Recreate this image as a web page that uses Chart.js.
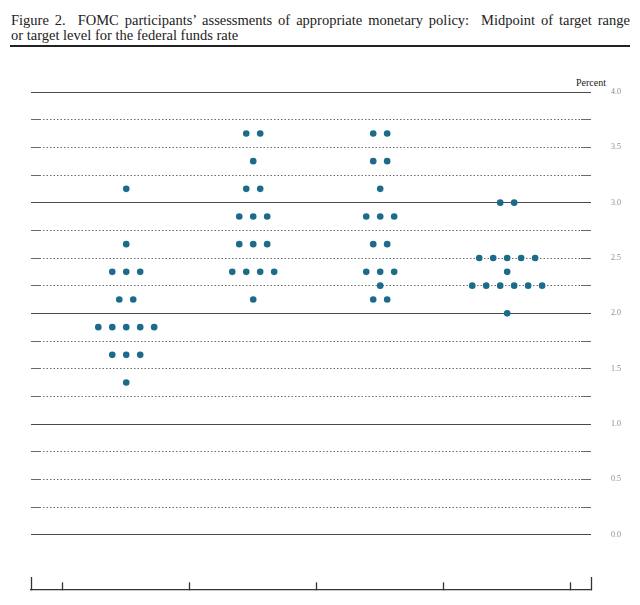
<!DOCTYPE html>
<html>
<head>
<meta charset="utf-8">
<script src="https://cdn.jsdelivr.net/npm/chart.js@4.4.1/dist/chart.umd.min.js"></script>
<style>
  html, body { margin: 0; padding: 0; background: #fff; }
  #wrap { position: relative; width: 640px; height: 605px; }
  .title {
    position: absolute; left: 11px; width: 619px;
    font-family: 'Liberation Serif', serif; font-size: 14.5px; line-height: 15px;
    color: #222; white-space: nowrap;
  }
  #t1 { top: 13px; text-align: justify; text-align-last: justify; white-space: normal; }
  #t2 { top: 28px; }
  #rule { position: absolute; left: 10px; top: 45px; width: 620px; border-top: 2px solid #222; }
  #unit {
    position: absolute; left: 576px; top: 77px;
    font-family: 'Liberation Serif', serif; font-size: 10px; color: #222;
  }
  canvas { position: absolute; left: 0; top: 0; }
</style>
</head>
<body>
<div id="wrap">
  <div class="title" id="t1">Figure 2.&nbsp; FOMC participants’ assessments of appropriate monetary policy:&nbsp; Midpoint of target range</div>
  <div class="title" id="t2">or target level for the federal funds rate</div>
  <div id="rule"></div>
  <div id="unit">Percent</div>
  <canvas id="chart" width="640" height="605"></canvas>
</div>
<script>
const categories = ['2018', '2019', '2020', 'Longer run'];

// midpoint levels and number of participants at each level
const levels2018 = [3.125, 2.625, 2.375, 2.125, 1.875, 1.625, 1.375];
const counts2018 = [1, 1, 3, 2, 5, 3, 1];
const levels2019 = [3.625, 3.375, 3.125, 2.875, 2.625, 2.375, 2.125];
const counts2019 = [2, 1, 2, 3, 3, 4, 1];
const levels2020 = [3.625, 3.375, 3.125, 2.875, 2.625, 2.375, 2.25, 2.125];
const counts2020 = [2, 2, 1, 3, 2, 3, 1, 2];
const levelsLonger = [3.0, 2.5, 2.375, 2.25, 2.0];
const countsLonger = [2, 5, 1, 6, 1];

const yTickLabels = ['0.0', '0.5', '1.0', '1.5', '2.0', '2.5', '3.0', '3.5', '4.0'];
const xTickValues = [-0.75, -0.5, 0.5, 1.5, 2.5, 3.5, 3.66];

const groups = [
  [levels2018, counts2018],
  [levels2019, counts2019],
  [levels2020, counts2020],
  [levelsLonger, countsLonger],
];

const dotSpacing = 0.11;
const points = [];
groups.forEach(([levels, counts], i) => {
  levels.forEach((level, k) => {
    const n = counts[k];
    for (let j = 0; j < n; j++) {
      points.push({ x: i + (j - (n - 1) / 2) * dotSpacing, y: level });
    }
  });
});

// dotted line with short solid pieces at both ends
function gridDash(ctx) {
  const t = ctx.tick;
  if (!t || Number.isInteger(t.value)) return [];
  const area = ctx.chart.chartArea;
  const w = area ? area.right - area.left : 560;
  const arr = [10];
  let pos = 10;
  while (pos + 3.5 < w - 10) {
    arr.push(2, 1.5);
    pos += 3.5;
  }
  arr.push(w - 10 - pos, 40);
  return arr;
}

new Chart(document.getElementById('chart'), {
  type: 'scatter',
  data: {
    datasets: [{
      label: 'Participants',
      data: points,
      backgroundColor: '#1d6b8b',
      borderWidth: 0,
      pointRadius: 3.3,
    }],
  },
  options: {
    responsive: false,
    animation: false,
    layout: { padding: { left: 31, top: 92, right: 0, bottom: 15 } },
    plugins: {
      legend: { display: false },
      tooltip: { enabled: false },
    },
    scales: {
      x: {
        type: 'linear',
        position: 'bottom',
        min: xTickValues[0],
        max: xTickValues[xTickValues.length - 1],
        afterBuildTicks: (scale) => {
          scale.ticks = xTickValues.map((v) => ({ value: v }));
        },
        afterFit: (scale) => { scale.height = 0; },
        grid: {
          drawOnChartArea: false,
          drawTicks: true,
          tickLength: -13,
          tickColor: '#333',
          tickWidth: 1.3,
          tickBorderDash: (ctx) => (ctx.index === 0 || ctx.index === xTickValues.length - 1) ? [] : [8, 30],
        },
        border: { display: true, color: '#333', width: 1.3 },
        ticks: { display: false },
      },
      y: {
        position: 'right',
        min: -0.5,
        max: 4,
        afterFit: (scale) => {
          scale.width = 49;
          scale.paddingTop = 0;
          scale.paddingBottom = 0;
        },
        ticks: {
          stepSize: 0.25,
          autoSkip: false,
          padding: 20,
          color: '#8a8a8a',
          font: { family: 'Liberation Serif', size: 8 },
          callback: (v) => {
            const i = Math.round(v / 0.5);
            return (v >= 0 && Math.abs(v - i * 0.5) < 1e-9) ? yTickLabels[i] : '';
          },
        },
        grid: {
          drawTicks: false,
          lineWidth: 1,
          color: (ctx) => {
            const v = ctx.tick ? ctx.tick.value : 0;
            if (v < 0) return 'rgba(0,0,0,0)';
            return Number.isInteger(v) ? '#4a4a4a' : '#6a6a6a';
          },
        },
        border: { display: false, dash: gridDash },
      },
    },
  },
});
</script>
</body>
</html>
